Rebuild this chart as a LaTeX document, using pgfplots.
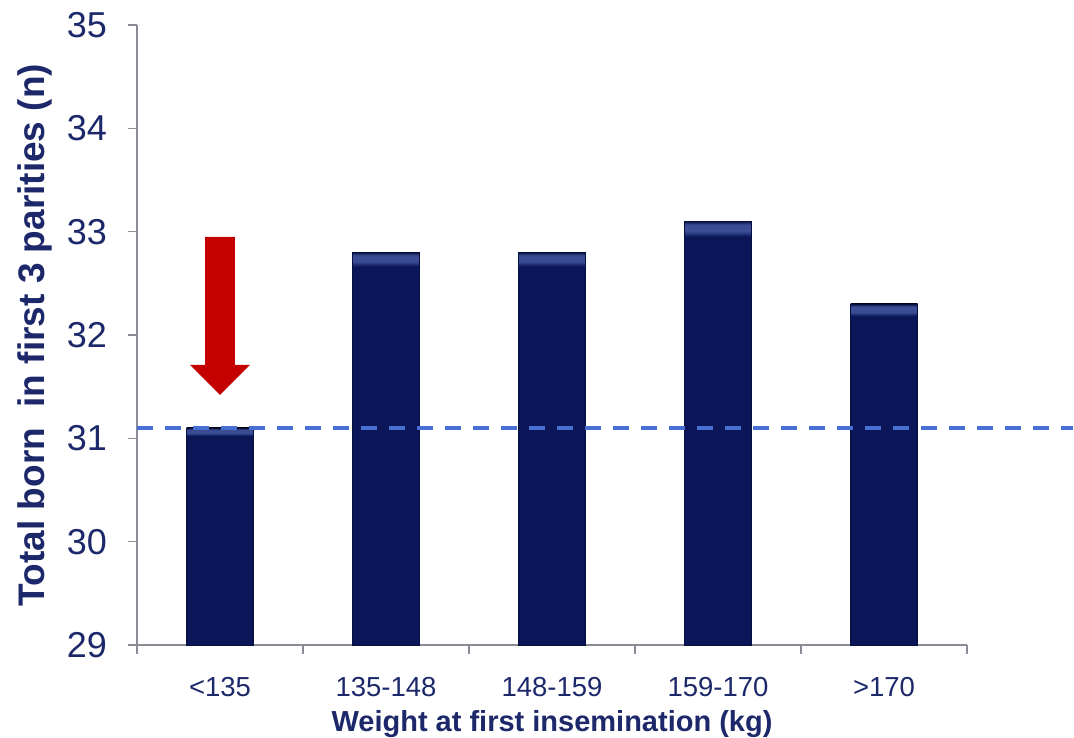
\documentclass[border=0pt]{standalone}
\usepackage{pgfplots}
\pgfplotsset{compat=1.18}
\usepackage{fontspec}
\setmainfont{Liberation Sans}

\definecolor{labelnavy}{RGB}{28,40,105}
\definecolor{barnavy}{RGB}{10,22,88}
\definecolor{barlight}{RGB}{58,76,148}
\definecolor{axisgray}{RGB}{140,140,150}
\definecolor{refblue}{RGB}{72,112,210}
\definecolor{arrowred}{RGB}{196,0,0}

% dark bar body with a lighter bevel strip along the top edge
\pgfdeclareverticalshading{barbevel}{100bp}{%
  color(0bp)=(barnavy); color(25bp)=(barnavy); color(73.2bp)=(barnavy);
  color(73.8bp)=(barlight); color(74.6bp)=(barlight); color(75bp)=(barnavy!70!black);
  color(100bp)=(barnavy!70!black)}

\pgfplotsset{
  weightbar/.style={ybar, bar width=67pt, bar shift=0pt,
    draw=barnavy!70!black, line width=0.6pt, shading=barbevel},
}

\begin{document}
\begin{tikzpicture}[x=1pt,y=1pt]
\useasboundingbox (0,0) rectangle (1074,738);
\begin{axis}[
  at={(137pt,93pt)}, anchor=south west,
  scale only axis, width=830pt, height=620pt,
  xmin=-0.5, xmax=4.5, ymin=29, ymax=35,
  clip=false,
  axis lines*=left,
  axis line style={draw=axisgray, line width=1.6pt},
  every tick/.style={draw=axisgray, line width=1.6pt},
  tick align=outside,
  major tick length=9pt, minor tick length=9pt,
  ytick={29,30,...,35},
  xtick={0,1,2,3,4},
  xticklabels={{<135},{135-148},{148-159},{159-170},{>170}},
  x tick style={draw=none},
  minor xtick={-0.5,0.5,...,4.5},
  minor x tick style={draw=axisgray, line width=1.6pt},
  yticklabel style={font=\fontsize{36}{40}\selectfont, text=labelnavy,
                    anchor=east, inner sep=0pt, xshift=-21pt},
  xticklabel style={font=\fontsize{27.5}{30}\selectfont, text=labelnavy,
                    anchor=center, inner sep=0pt, yshift=-33pt},
  /pgf/number format/assume math mode=true,
  xlabel={Weight at first insemination (kg)},
  ylabel={Total born\ \ in first 3 parities (n)},
  xlabel style={at={(axis description cs:0.5,-0.128)}, anchor=center,
                font=\bfseries\fontsize{29}{32}\selectfont, text=labelnavy},
  ylabel style={at={(axis description cs:-0.1235,0.5)}, anchor=center, rotate=0,
                font=\bfseries\fontsize{37}{40}\selectfont, text=labelnavy},
]
  % one bar per weight class, so each gets its own bevel
  \addplot[weightbar] coordinates {(0,31.1)};
  \addplot[weightbar] coordinates {(1,32.8)};
  \addplot[weightbar] coordinates {(2,32.8)};
  \addplot[weightbar] coordinates {(3,33.1)};
  \addplot[weightbar] coordinates {(4,32.3)};

  % reference level of the lightest group
  \draw[refblue, line width=3.8pt, dash pattern=on 16pt off 12pt]
    (axis cs:-0.5,31.1) -- (axis cs:5.14,31.1);

  % arrow pointing at the lightest group
  \fill[arrowred]
    (axis cs:-0.09,32.95) -- (axis cs:0.09,32.95) -- (axis cs:0.09,31.71)
    -- (axis cs:0.18,31.71) -- (axis cs:0,31.42) -- (axis cs:-0.18,31.71)
    -- (axis cs:-0.09,31.71) -- cycle;
\end{axis}
\end{tikzpicture}
\end{document}
